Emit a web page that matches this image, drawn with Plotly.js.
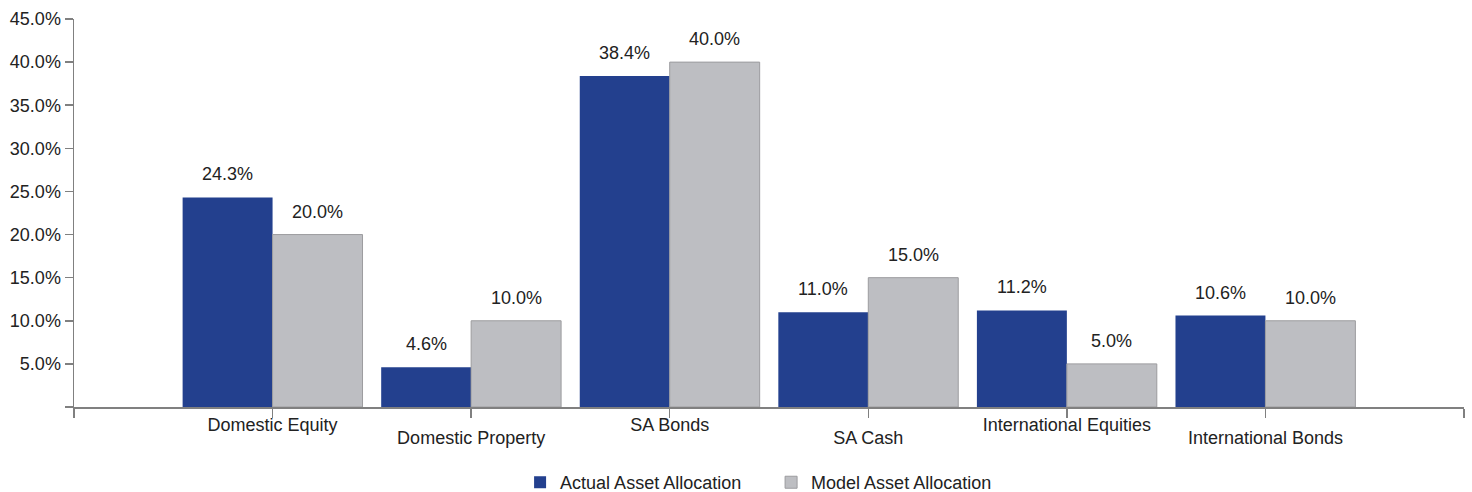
<!DOCTYPE html>
<html>
<head>
<meta charset="utf-8">
<script src="https://cdn.plot.ly/plotly-3.0.1.min.js"></script>
<style>html,body{margin:0;padding:0;background:#fff;}#chart{width:1472px;height:492px;}</style>
</head>
<body>
<div id="chart"></div>
<script>
var categories = ["Domestic Equity", "Domestic Property", "SA Bonds", "SA Cash", "International Equities", "International Bonds"];
var actual = [24.3, 4.6, 38.4, 11.0, 11.2, 10.6];
var model = [20.0, 10.0, 40.0, 15.0, 5.0, 10.0];
var seriesNames = ["Actual Asset Allocation", "Model Asset Allocation"];
var yTicks = [0, 5, 10, 15, 20, 25, 30, 35, 40, 45];

var idx = categories.map(function (c, i) { return i; });
var blue = "#23408e", grey = "#bdbec2", axisGrey = "#808080";
var fontFam = "Liberation Sans, Arial, sans-serif";
var fs = 18;

var evenVals = [-1], evenText = [""], oddVals = [], oddText = [];
idx.forEach(function (i) {
  evenVals.push(i);
  if (i % 2 === 0) { evenText.push(categories[i]); }
  else { evenText.push(""); oddVals.push(i); oddText.push(categories[i]); }
});
evenVals.push(categories.length); evenText.push("");

var traces = [
  { type: "bar", name: seriesNames[0], x: idx, y: actual,
    marker: { color: blue, line: { color: blue, width: 0 } }, hoverinfo: "skip" },
  { type: "bar", name: seriesNames[1], x: idx, y: model,
    marker: { color: grey, line: { color: "#9c9c9f", width: 1 } }, hoverinfo: "skip" },
  { type: "scatter", mode: "markers", x: oddVals, y: oddVals.map(function () { return null; }),
    xaxis: "x2", yaxis: "y", showlegend: false, hoverinfo: "skip", marker: { opacity: 0 } }
];

var bargap = 0.094;
var half = (1 - bargap) / 4;
var annotations = [];
idx.forEach(function (i) {
  annotations.push({ x: i - half, y: actual[i], xref: "x", yref: "y", text: actual[i].toFixed(1) + "%",
    showarrow: false, yanchor: "bottom", yshift: 11, font: { size: fs, color: "#222", family: fontFam } });
  annotations.push({ x: i + half, y: model[i], xref: "x", yref: "y", text: model[i].toFixed(1) + "%",
    showarrow: false, yanchor: "bottom", yshift: 11, font: { size: fs, color: "#222", family: fontFam } });
});

var layout = {
  width: 1472, height: 492,
  margin: { l: 74, r: 8, t: 19, b: 85, autoexpand: false },
  paper_bgcolor: "#fff", plot_bgcolor: "#fff",
  font: { family: fontFam, size: fs, color: "#222" },
  barmode: "group", bargap: bargap, bargroupgap: 0,
  showlegend: true,
  legend: { orientation: "h", x: 0.5015, xanchor: "center", y: -0.147, yanchor: "top",
    font: { size: fs, color: "#222", family: fontFam }, itemwidth: 30, tracegroupgap: 0,
    entrywidth: 206, entrywidthmode: "pixels" },
  xaxis: { range: [-1, categories.length], tickmode: "array", tickvals: evenVals, ticktext: evenText,
    showline: true, linecolor: axisGrey, linewidth: 1.5, ticks: "outside", ticklen: 9, tickwidth: 1.5,
    tickcolor: axisGrey, showgrid: false, zeroline: false, fixedrange: true, automargin: false,
    ticklabelstandoff: -8,
    tickfont: { size: fs, color: "#222", family: fontFam } },
  xaxis2: { overlaying: "x", anchor: "y", side: "bottom", range: [-1, categories.length],
    tickmode: "array", tickvals: oddVals, ticktext: oddText, ticks: "", showline: false,
    showgrid: false, zeroline: false, ticklabelstandoff: 18, fixedrange: true, automargin: false,
    tickfont: { size: fs, color: "#222", family: fontFam } },
  yaxis: { range: [0, 45], tickmode: "array", tickvals: yTicks,
    ticktext: yTicks.map(function (v) { return v === 0 ? "" : v.toFixed(1) + "%"; }),
    showline: true, linecolor: axisGrey, linewidth: 1.5, ticks: "outside", ticklen: 8, tickwidth: 1.5,
    tickcolor: axisGrey, showgrid: false, zeroline: false, fixedrange: true, automargin: false,
    tickfont: { size: fs, color: "#222", family: fontFam } },
  annotations: annotations
};

Plotly.newPlot("chart", traces, layout, { displayModeBar: false, staticPlot: true });
</script>
</body>
</html>
